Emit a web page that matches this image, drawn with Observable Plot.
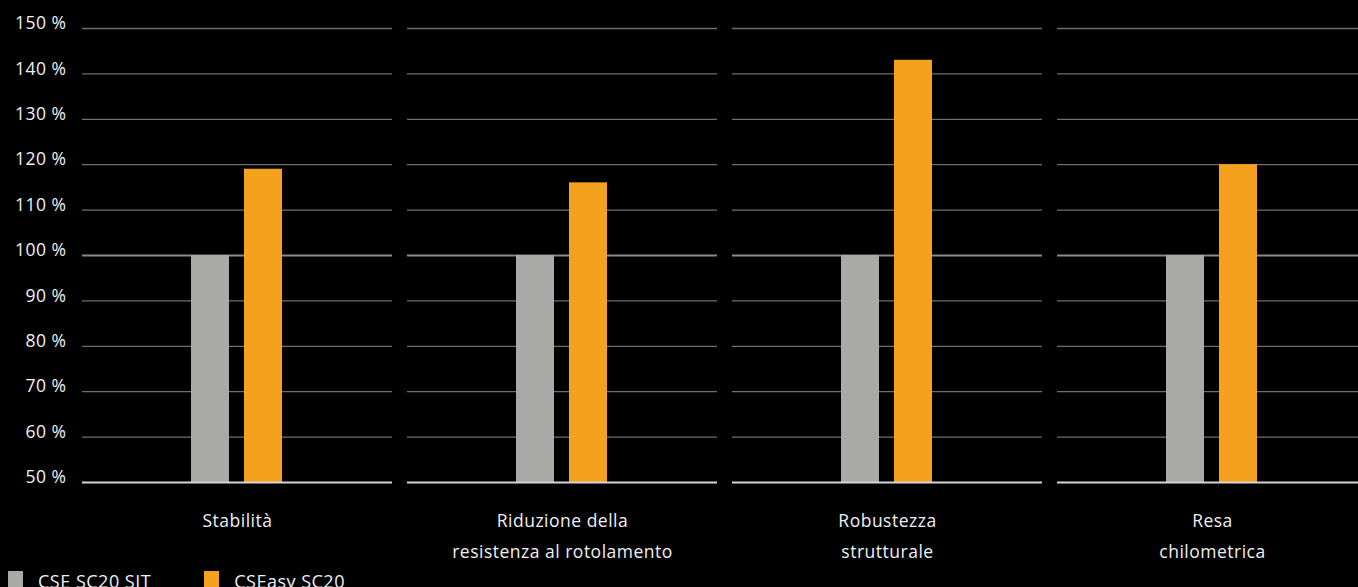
<!DOCTYPE html>
<html>
<head>
<meta charset="utf-8">
<script src="https://cdn.jsdelivr.net/npm/d3@7"></script>
<script src="https://cdn.jsdelivr.net/npm/@observablehq/plot@0.6"></script>
<style>
  html, body { margin: 0; padding: 0; background: #000; overflow: hidden; }
  body { width: 1358px; height: 587px; position: relative; font-family: "Open Sans", sans-serif; }
  #chart svg { display: block; max-width: none !important; height: 587px !important; }
  #chart svg text { letter-spacing: 0.5px; }
  #legend { position: absolute; left: 8px; top: 571px; display: flex; align-items: flex-start; color: #f0f0f0; font-size: 18px; line-height: 18px; letter-spacing: 0.5px; }
  .item { display: flex; align-items: flex-start; }
  .sw { width: 15px; height: 16px; margin-right: 15px; }
  .item span { margin-top: 1px; }
</style>
</head>
<body>
<div id="chart"></div>
<div id="legend"></div>
<script>
const categories = ["Stabilità", "Riduzione della\nresistenza al rotolamento", "Robustezza\nstrutturale", "Resa\nchilometrica"];
const series = ["CSE SC20 SIT", "CSEasy SC20"];
const sitValues = [100, 100, 100, 100];
const easyValues = [119, 116, 143, 120];
const yTicks = [50, 60, 70, 80, 90, 100, 110, 120, 130, 140, 150];
const colors = ["#a9a9a7", "#f4a11e"];

const data = [];
categories.forEach((c, i) => {
  data.push({category: c, series: series[0], value: sitValues[i]});
  data.push({category: c, series: series[1], value: easyValues[i]});
});

const chart = Plot.plot({
  width: 1367,
  height: 587,
  marginTop: 28,
  marginBottom: 105,
  marginLeft: 82,
  marginRight: 0,
  style: {background: "#000", color: "#f0f0f0", fontFamily: "'Open Sans', sans-serif"},
  fx: {domain: categories, paddingInner: 15 / 325, paddingOuter: 0, label: null},
  x: {domain: series, paddingInner: 0.283, paddingOuter: 2.066, axis: null},
  y: {domain: [50, 150], axis: null},
  color: {domain: series, range: colors},
  marks: [
    Plot.ruleY(yTicks.filter(d => d !== 50 && d !== 100), {stroke: "#6e6e6e", strokeWidth: 1.3}),
    Plot.ruleY([100], {stroke: "#8a8a8a", strokeWidth: 2.2}),
    Plot.barY(data, {fx: "category", x: "series", y1: 50, y2: "value", fill: "series"}),
    Plot.ruleY([50], {stroke: "#d6d6d6", strokeWidth: 1.8}),
    Plot.axisY(yTicks, {
      anchor: "left", tickSize: 0, tickPadding: 16, fontSize: 17.5, dy: -5,
      tickFormat: d => d + " %", label: null, fill: "#f0f0f0"
    }),
    Plot.axisFx({
      anchor: "bottom", tickSize: 0, tickPadding: 23, fontSize: 17.5, lineHeight: 1.77,
      label: null, fill: "#f0f0f0"
    })
  ]
});
document.getElementById("chart").appendChild(chart);

const legend = document.getElementById("legend");
series.forEach((s, i) => {
  const item = document.createElement("div");
  item.className = "item";
  item.style.marginRight = i === 0 ? "53px" : "0";
  const sw = document.createElement("div");
  sw.className = "sw";
  sw.style.background = colors[i];
  const label = document.createElement("span");
  label.textContent = s;
  item.appendChild(sw);
  item.appendChild(label);
  legend.appendChild(item);
});
</script>
</body>
</html>
